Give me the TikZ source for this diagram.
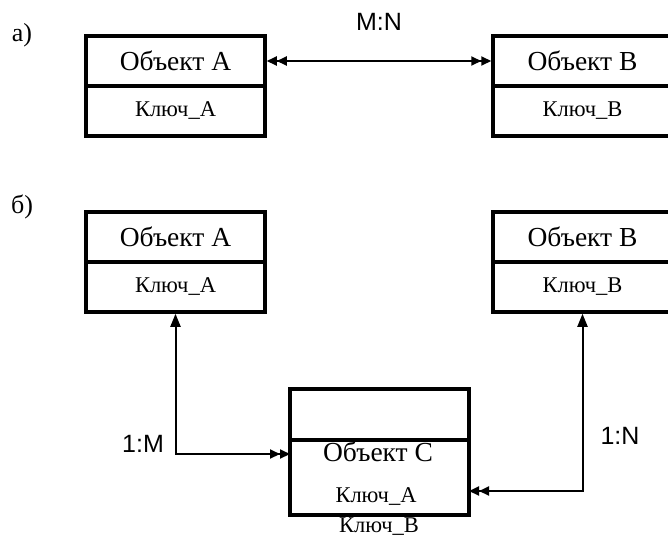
\documentclass[tikz,border=0pt]{standalone}
\usepackage{fontspec}
\setmainfont{Liberation Serif}
\newfontfamily\labelfont{Liberation Sans}
\usetikzlibrary{arrows.meta}
\tikzset{
  cell/.style={draw, line width=3.5pt, minimum width=179pt, inner sep=0pt, font=\fontsize{27.5}{30}\selectfont},
  keycell/.style={cell, font=\fontsize{22.5}{24}\selectfont},
  txt/.style={inner sep=0pt, font=\fontsize{22.5}{24}\selectfont},
  sect/.style={inner sep=0pt, font=\fontsize{26}{28}\selectfont},
  otxt/.style={inner sep=0pt, font=\fontsize{27.5}{30}\selectfont},
  lbl/.style={inner sep=0pt, font=\labelfont\fontsize{25}{28}\selectfont},
  conn/.style={line width=2pt},
  tip/.tip={Triangle[length=10pt,width=9pt]},
  onetip/.tip={Triangle[length=13pt,width=10pt]},
}
\begin{document}
\begin{tikzpicture}[x=1pt, y=-1pt]
\clip (0,0) rectangle (668,536);
\fill[white] (0,0) rectangle (668,536);
% labels a) b)
\node[sect] (la) at (22,35) {а)};
\node[sect] (lb) at (22,207) {б)};
% part a
\node[cell, minimum height=50pt] (aA1) at (175.5,61) {Объект А};
\node[keycell, minimum height=50pt] (aA2) at (175.5,111) {Ключ\_А};
\node[cell, minimum height=50pt] (aB1) at (582.5,61) {Объект В};
\node[keycell, minimum height=50pt] (aB2) at (582.5,111) {Ключ\_В};
\draw[conn, {tip[]tip[]}-{tip[]tip[]}] (aA1.east) -- (aB1.west);
\node[lbl] (mn) at (379,22) {M:N};
% part b
\node[cell, minimum height=50pt] (bA1) at (175.5,237) {Объект А};
\node[keycell, minimum height=50pt] (bA2) at (175.5,287) {Ключ\_А};
\node[cell, minimum height=50pt] (bB1) at (582.5,237) {Объект В};
\node[keycell, minimum height=50pt] (bB2) at (582.5,287) {Ключ\_В};
\node[cell, minimum height=51pt] (C1) at (379.5,414.5) {};
\node[cell, minimum height=75pt] (C2) at (379.5,477.5) {};
\node[otxt] (ct) at (378,452) {Объект С};
\node[txt] (ck1) at (376,497) {Ключ\_А};
\node[txt] (ck2) at (379,526.5) {Ключ\_В};
\coordinate (cl) at (290,454);
\coordinate (cr) at (469,491);
\draw[conn, {onetip[]}-{tip[]tip[]}] (bA2.south) |- (cl);
\draw[conn, {onetip[]}-{tip[]tip[]}] (bB2.south) |- (cr);
\node[lbl] (m1) at (143,444) {1:M};
\node[lbl] (n1) at (620,436) {1:N};
\end{tikzpicture}
\end{document}
